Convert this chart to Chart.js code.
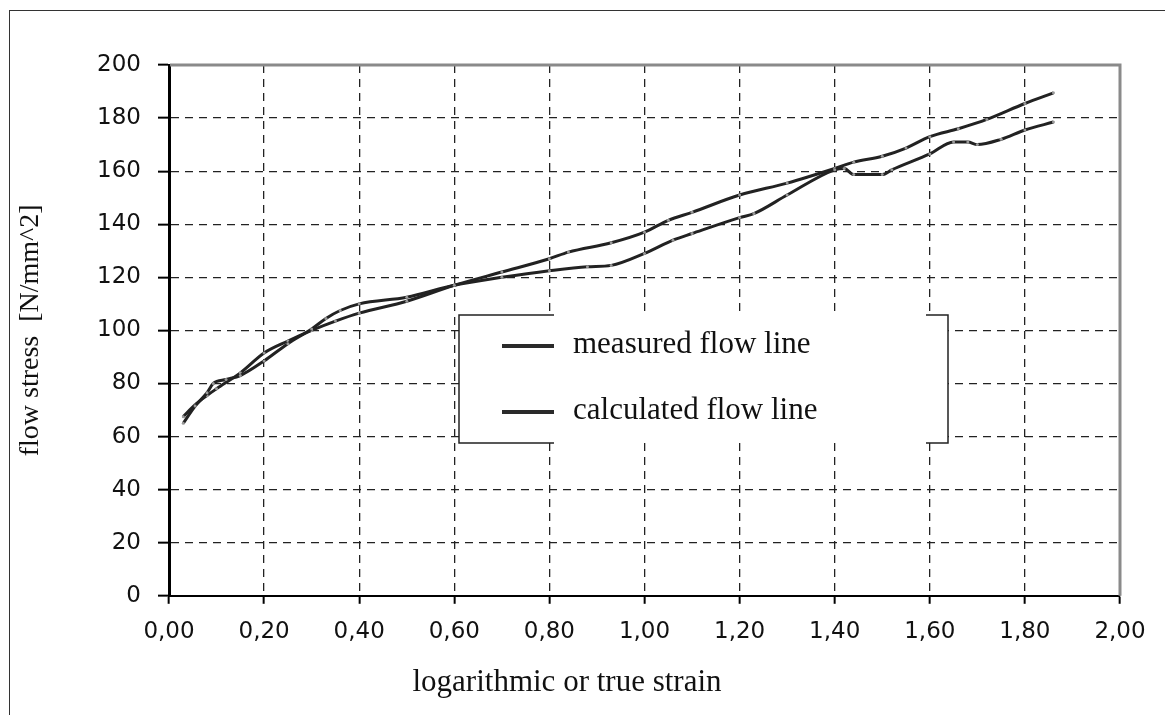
<!DOCTYPE html>
<html>
<head>
<meta charset="utf-8">
<title>flow stress</title>
<script src="https://cdn.jsdelivr.net/npm/chart.js@4.4.1/dist/chart.umd.min.js"></script>
<style>
  html, body { margin: 0; padding: 0; background: #fff; }
  #wrap { position: relative; width: 1165px; height: 715px; }
  #frame {
    position: absolute; left: 9px; top: 10px; right: 0; bottom: 0;
    border-top: 1px solid #333; border-left: 1px solid #333;
    pointer-events: none;
  }
</style>
</head>
<body>
<div id="wrap">
  <canvas id="myChart" width="1165" height="715"></canvas>
  <div id="frame"></div>
</div>
<script>
// measured flow line
const strainMeasured = [0.03, 0.055, 0.08, 0.093, 0.12, 0.15, 0.2, 0.25, 0.3, 0.33, 0.36, 0.4,
  0.5, 0.6, 0.7, 0.8, 0.88, 0.93, 1.0, 1.06, 1.1, 1.2, 1.23, 1.3, 1.4, 1.42, 1.44, 1.5,
  1.52, 1.6, 1.65, 1.68, 1.7, 1.75, 1.8, 1.86];
const stressMeasured = [65, 71.5, 76.5, 80, 81.5, 83, 88.5, 95, 100.5, 104.5, 107.5, 110,
  112.5, 117, 120, 122.5, 124, 124.5, 129, 134, 136.5, 142.5, 144, 151, 160.5, 161, 158.7, 158.7,
  160.5, 166.5, 171, 171, 170, 172, 175.5, 178.5];

// calculated flow line
const strainCalc = [0.03, 0.055, 0.08, 0.1, 0.15, 0.2, 0.25, 0.3, 0.35, 0.4, 0.5, 0.6, 0.7,
  0.8, 0.84, 0.93, 1.0, 1.05, 1.1, 1.2, 1.3, 1.4, 1.44, 1.5, 1.55, 1.6, 1.66, 1.72, 1.8, 1.86];
const stressCalc = [67.5, 72, 75.5, 78, 84, 91.5, 96, 100, 103.5, 106.5, 111, 117, 122,
  127, 129.5, 133, 137, 141.5, 144.5, 151, 155.5, 161, 163.4, 165.6, 168.7, 173, 176, 179.5, 185.5, 189.5];

const seriesNames = ["measured flow line", "calculated flow line"];

function toPoints(xs, ys) {
  return xs.map((x, i) => ({ x: x, y: ys[i] }));
}

// gray frame on top and right of the plot
const plotFrame = {
  id: "plotFrame",
  beforeDatasetsDraw(chart) {
    const { ctx, chartArea: a } = chart;
    ctx.save();
    ctx.strokeStyle = "#8a8a8a";
    ctx.lineWidth = 3;
    ctx.beginPath();
    ctx.moveTo(a.left + 1, a.top);
    ctx.lineTo(a.right, a.top);
    ctx.lineTo(a.right, a.bottom);
    ctx.stroke();
    ctx.restore();
  }
};

// legend box with the open top/bottom edges
const boxLegend = {
  id: "boxLegend",
  afterDatasetsDraw(chart) {
    const ctx = chart.ctx;
    const L = 459, R = 948, T = 315, B = 443;
    ctx.save();
    ctx.fillStyle = "#fff";
    ctx.fillRect(L, T, R - L, B - T);
    ctx.strokeStyle = "#222";
    ctx.lineWidth = 1.5;
    ctx.beginPath();
    ctx.moveTo(554, T); ctx.lineTo(L, T); ctx.lineTo(L, B); ctx.lineTo(554, B);
    ctx.moveTo(926, T); ctx.lineTo(R, T); ctx.lineTo(R, B); ctx.lineTo(926, B);
    ctx.stroke();

    const rows = [346, 412];
    ctx.lineWidth = 4;
    ctx.fillStyle = "#111";
    ctx.font = "31px 'Liberation Serif', 'Times New Roman', serif";
    ctx.textBaseline = "alphabetic";
    rows.forEach((y, i) => {
      ctx.strokeStyle = "#2a2a2a";
      ctx.beginPath();
      ctx.moveTo(502, y);
      ctx.lineTo(554, y);
      ctx.stroke();
      ctx.fillText(seriesNames[i], 573, y + 7);
    });
    ctx.restore();
  }
};

const data = {
  datasets: [
    {
      label: seriesNames[0],
      data: toPoints(strainMeasured, stressMeasured),
      borderColor: "#222",
      borderWidth: 3,
      pointRadius: 1.5,
      pointBackgroundColor: "#999",
      pointBorderWidth: 0,
      cubicInterpolationMode: "monotone",
    },
    {
      label: seriesNames[1],
      data: toPoints(strainCalc, stressCalc),
      borderColor: "#222",
      borderWidth: 3,
      pointRadius: 1.5,
      pointBackgroundColor: "#999",
      pointBorderWidth: 0,
      cubicInterpolationMode: "monotone",
    },
  ],
};

const tickFont = { family: "'DejaVu Sans', sans-serif", size: 23 };
const serifFont = { family: "'Liberation Serif', 'Times New Roman', serif", size: 28, weight: "normal" };
const xTitleFont = { family: "'Liberation Serif', 'Times New Roman', serif", size: 31, weight: "normal" };

const config = {
  type: "line",
  data: data,
  options: {
    responsive: false,
    animation: false,
    layout: { padding: { left: 14, top: 65, right: 45, bottom: 14 } },
    plugins: {
      legend: { display: false },
      tooltip: { enabled: false },
      title: {
        display: true,
        position: "bottom",
        text: "logarithmic or true strain",
        color: "#111",
        font: xTitleFont,
        padding: { top: 0, bottom: 0 },
      },
    },
    scales: {
      x: {
        type: "linear",
        min: 0,
        max: 2,
        afterFit(scale) { scale.height = 68; },
        ticks: {
          stepSize: 0.2,
          autoSkip: false,
          maxRotation: 0,
          padding: 14,
          color: "#111",
          font: tickFont,
          callback: (v) => v.toFixed(2).replace(".", ","),
        },
        grid: {
          color: "#222",
          lineWidth: 1.3,
          borderDash: [8, 6],
          tickColor: "#000",
          tickWidth: 2,
          tickLength: 8,
        },
        border: { color: "#000", width: 2, dash: [8, 6] },
      },
      y: {
        min: 0,
        max: 200,
        afterFit(scale) { scale.width = 155; },
        ticks: {
          stepSize: 20,
          padding: 17,
          color: "#111",
          font: tickFont,
        },
        grid: {
          color: "#222",
          lineWidth: 1.3,
          borderDash: [8, 6],
          tickColor: "#000",
          tickWidth: 2,
          tickLength: 11,
        },
        border: { color: "#000", width: 3, dash: [8, 6] },
        title: {
          display: true,
          text: "flow stress  [N/mm^2]",
          color: "#111",
          font: serifFont,
          padding: { top: 0, bottom: 0 },
        },
      },
    },
  },
  plugins: [plotFrame, boxLegend],
};

const ctx = document.getElementById("myChart").getContext("2d");
const myChart = new Chart(ctx, config);
</script>
</body>
</html>
